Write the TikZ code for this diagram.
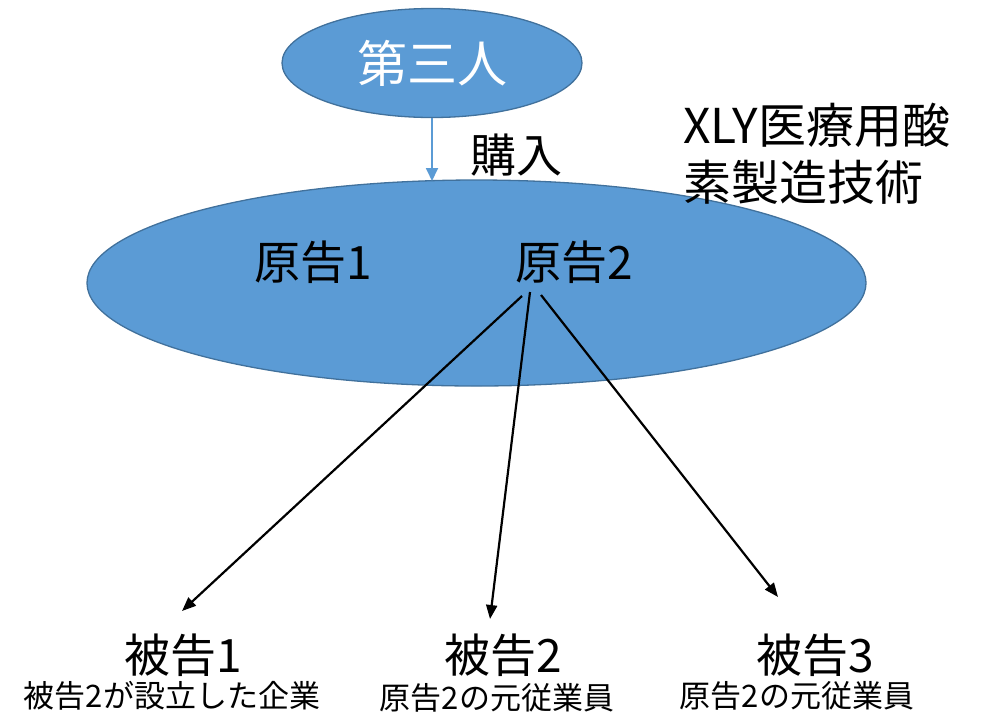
\documentclass[tikz,border=0pt]{standalone}
\usepackage{fontspec}
\setmainfont{Noto Sans CJK JP}
\usetikzlibrary{shapes.geometric,arrows.meta}
\definecolor{fillblue}{HTML}{5B9BD5}
\definecolor{edgeblue}{HTML}{41719C}
\tikzset{
  blob/.style={ellipse, fill=fillblue, draw=edgeblue, line width=1.3pt, inner sep=0pt},
  big/.style={font=\fontsize{46}{52}\selectfont},
  side/.style={font=\fontsize{48}{54}\selectfont},
  small/.style={font=\fontsize{31}{36}\selectfont},
  link/.style={line width=2.2pt, -{Triangle[length=14pt,width=11pt]}},
}
\begin{document}
\begin{tikzpicture}[x=1pt,y=-1pt]
\useasboundingbox (0,0) rectangle (981,716);
\node[blob, minimum width=779, minimum height=206] (plain) at (476.5,283) {};
\node[blob, minimum width=300, minimum height=109, text=white, font=\fontsize{50}{56}\selectfont] (third) at (432,63) {第三人};
\node[big] (buy) at (516,155) {購入};
\node[big] (p1) at (313,262) {原告1};
\node[big] (p2) at (574,262) {原告2};
\node[side, anchor=west, inner sep=0pt] (tech1) at (683,125) {XLY医療用酸};
\node[side, anchor=west, inner sep=0pt] (tech2) at (683,182) {素製造技術};
\node[big] (d1) at (183,655) {被告1};
\node[big] (d2) at (503,655) {被告2};
\node[big] (d3) at (815,655) {被告3};
\node[small] (n1) at (172,696) {被告2が設立した企業};
\node[small] (n2) at (497,698) {原告2の元従業員};
\node[small] (n3) at (797,696) {原告2の元従業員};
\coordinate (s1) at (522,296);
\coordinate (s2) at (530,292);
\coordinate (s3) at (541,295);
\coordinate (e1) at (182,611);
\coordinate (e2) at (490,619);
\coordinate (e3) at (778,597);
\coordinate (tb) at (432,181);
\draw[link, draw=fillblue, line width=1.8pt, -{Triangle[length=13pt,width=12pt]}, fill=fillblue] (third.south) -- (tb);
\draw[link] (s1) -- (e1);
\draw[link] (s2) -- (e2);
\draw[link] (s3) -- (e3);
\end{tikzpicture}
\end{document}
